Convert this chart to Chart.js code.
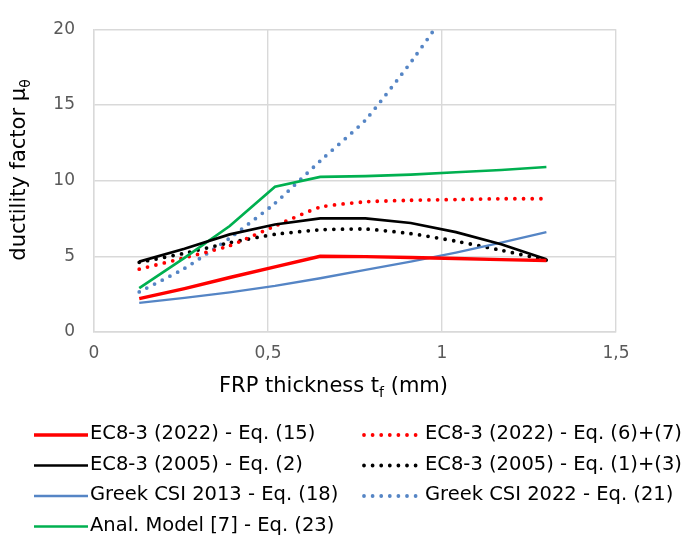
<!DOCTYPE html>
<html>
<head>
<meta charset="utf-8">
<script src="https://cdn.jsdelivr.net/npm/chart.js@4"></script>
<style>
  html, body { margin: 0; padding: 0; background: #fff; overflow: hidden; }
</style>
</head>
<body>
<canvas id="myChart" width="685" height="538"></canvas>
<script>
// FRP thickness t_f (mm)
const thickness = [0.13, 0.26, 0.39, 0.52, 0.65, 0.78, 0.91, 1.04, 1.17, 1.30];

// ductility factor per method
const ec8_2022_eq15 = [2.2, 2.87, 3.6, 4.3, 5.0, 4.98, 4.92, 4.85, 4.78, 4.72];
const ec8_2005_eq2 = [4.65, 5.5, 6.45, 7.1, 7.5, 7.5, 7.2, 6.6, 5.8, 4.8];
const greekCsi2013_eq18 = [1.92, 2.25, 2.62, 3.05, 3.55, 4.1, 4.65, 5.25, 5.9, 6.6];
const analModel_eq23 = [2.9, 4.9, 7.0, 9.6, 10.25, 10.3, 10.4, 10.55, 10.7, 10.9];
const ec8_2022_eq6_7 = [4.15, 4.9, 5.7, 7.0, 8.25, 8.6, 8.7, 8.75, 8.8, 8.8];
const ec8_2005_eq1_3 = [4.6, 5.2, 5.9, 6.45, 6.75, 6.8, 6.5, 6.0, 5.4, 4.75];
const greekCsi2022_eq21 = [2.65, 4.2, 6.2, 8.5, 11.3, 14.0, 17.8, 22.0, null, null];

const yTicks = [0, 5, 10, 15, 20];
const xTickLabels = ["0", "0,5", "1", "1,5"];

const toPoints = (vals) => vals.map((v, i) => ({ x: thickness[i], y: v }));

const solid = (label, vals, color, w) => ({
  label: label,
  data: toPoints(vals),
  borderColor: color,
  backgroundColor: color,
  borderWidth: w,
  pointRadius: 0,
  tension: 0,
});

const dotted = (label, vals, color) => ({
  label: label,
  data: toPoints(vals),
  borderColor: color,
  backgroundColor: color,
  borderWidth: 3.8,
  borderDash: [0, 8.6],
  borderCapStyle: "round",
  pointRadius: 0,
  tension: 0.15,
});

const datasets = [
  solid("EC8-3 (2022) - Eq. (15)", ec8_2022_eq15, "#ff0000", 3.4),
  solid("EC8-3 (2005) - Eq. (2)", ec8_2005_eq2, "#000000", 2.7),
  solid("Greek CSI 2013 - Eq. (18)", greekCsi2013_eq18, "#5585c5", 2.3),
  solid("Anal. Model [7] - Eq. (23)", analModel_eq23, "#00b050", 2.7),
  dotted("EC8-3 (2022) - Eq. (6)+(7)", ec8_2022_eq6_7, "#ff0000"),
  dotted("EC8-3 (2005) - Eq. (1)+(3)", ec8_2005_eq1_3, "#000000"),
  dotted("Greek CSI 2022 - Eq. (21)", greekCsi2022_eq21, "#5585c5"),
];

const FONT = "'DejaVu Sans', Verdana, sans-serif";

// axis titles with subscripts + two-column legend, drawn on the canvas
const extras = {
  id: "extras",
  afterDraw(chart) {
    const c = chart.ctx;
    c.save();
    c.fillStyle = "#000";
    c.textBaseline = "alphabetic";

    // x title
    const big = "21px " + FONT, small = "14px " + FONT;
    c.font = big;
    const a = "FRP thickness t", b = " (mm)";
    const wa = c.measureText(a).width, wb = c.measureText(b).width;
    c.font = small;
    const ws = c.measureText("f").width;
    let x = 333.5 - (wa + ws + wb) / 2;
    const by = 392;
    c.font = big; c.fillText(a, x, by); x += wa;
    c.font = small; c.fillText("f", x, by + 5); x += ws;
    c.font = big; c.fillText(b, x, by);

    // y title
    c.save();
    c.translate(25, 170);
    c.rotate(-Math.PI / 2);
    c.font = big;
    const ya = "ductility factor μ";
    const wya = c.measureText(ya).width;
    c.font = small;
    const wyb = c.measureText("θ").width;
    let yx = -(wya + wyb) / 2;
    c.font = big; c.fillText(ya, yx, 0); yx += wya;
    c.font = small; c.fillText("θ", yx, 5);
    c.restore();

    // legend
    c.font = "19.5px " + FONT;
    c.textBaseline = "middle";
    const rows = [435, 465.5, 496, 526.5];
    chart.data.datasets.forEach((ds, i) => {
      const col = i < 4 ? 0 : 1;
      const row = col === 0 ? i : i - 4;
      const y = rows[row];
      const x0 = col === 0 ? 34 : 364;
      const x1 = col === 0 ? 88 : 423;
      c.save();
      c.strokeStyle = ds.borderColor;
      c.lineWidth = ds.borderWidth;
      c.lineCap = ds.borderDash ? "round" : "butt";
      c.setLineDash(ds.borderDash || []);
      c.beginPath();
      c.moveTo(x0, y);
      c.lineTo(x1, y);
      c.stroke();
      c.restore();
      c.fillText(ds.label, x1 + 2, y - 1);
    });
    c.restore();
  },
};

const ctx = document.getElementById("myChart");

new Chart(ctx, {
  type: "line",
  data: { datasets: datasets },
  options: {
    responsive: false,
    animation: false,
    devicePixelRatio: 1,
    layout: { padding: { left: 0, top: 16, right: 69, bottom: 166 } },
    plugins: {
      legend: { display: false },
      tooltip: { enabled: false },
    },
    scales: {
      x: {
        type: "linear",
        min: 0,
        max: 1.5,
        afterFit: (s) => { s.height = 40; },
        afterBuildTicks: (s) => {
          s.ticks = xTickLabels.map((t, i) => ({ value: i * 0.5 }));
        },
        ticks: {
          padding: 11,
          color: "#595959",
          font: { family: FONT, size: 17 },
          callback: (v, i) => xTickLabels[i],
        },
        grid: { color: "#d9d9d9", lineWidth: 1.4, drawTicks: false },
        border: { color: "#d9d9d9", width: 1.4 },
      },
      y: {
        min: 0,
        max: 20,
        afterFit: (s) => { s.width = 94; },
        afterBuildTicks: (s) => {
          s.ticks = yTicks.map((v) => ({ value: v }));
        },
        ticks: {
          padding: 19,
          color: "#595959",
          font: { family: FONT, size: 17 },
        },
        grid: { color: "#d9d9d9", lineWidth: 1.4, drawTicks: false },
        border: { color: "#d9d9d9", width: 1.4 },
      },
    },
  },
  plugins: [extras],
});
</script>
</body>
</html>
